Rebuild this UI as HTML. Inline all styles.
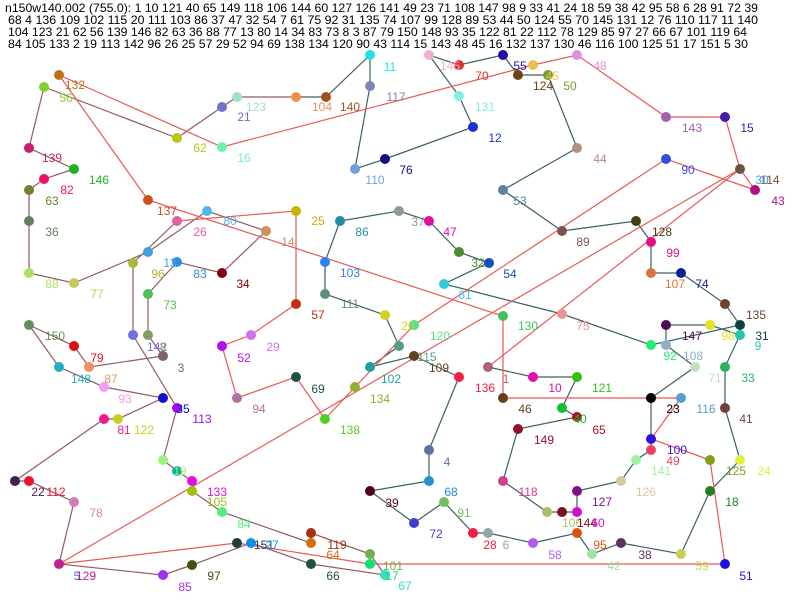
<!DOCTYPE html>
<html><head><meta charset="utf-8"><style>
html,body{margin:0;padding:0;background:#fff;width:800px;height:600px;overflow:hidden}
svg{display:block}
text{font-family:"Liberation Sans",sans-serif;font-size:12px}
</style></head><body>
<svg width="800" height="600" viewBox="0 0 800 600" xmlns="http://www.w3.org/2000/svg">
<g fill="#000">
<text x="5" y="12" textLength="753" lengthAdjust="spacingAndGlyphs">n150w140.002 (755.0): 1 10 121 40 65 149 118 106 144 60 127 126 141 49 23 71 108 147 98 9 33 41 24 18 59 38 42 95 58 6 28 91 72 39</text>
<text x="8" y="24" textLength="750" lengthAdjust="spacingAndGlyphs">68 4 136 109 102 115 20 111 103 86 37 47 32 54 7 61 75 92 31 135 74 107 99 128 89 53 44 50 124 55 70 145 131 12 76 110 117 11 140</text>
<text x="8" y="36" textLength="739" lengthAdjust="spacingAndGlyphs">104 123 21 62 56 139 146 82 63 36 88 77 13 80 14 34 83 73 8 3 87 79 150 148 93 35 122 81 22 112 78 129 85 97 27 66 67 101 119 64</text>
<text x="8" y="48" textLength="740" lengthAdjust="spacingAndGlyphs">84 105 133 2 19 113 142 96 26 25 57 29 52 94 69 138 134 120 90 43 114 15 143 48 45 16 132 137 130 46 116 100 125 51 17 151 5 30</text>
</g>
<g fill="none" stroke-width="1.2">
<polyline stroke="#3a6060" points="488,367 533,377 577,377 562,408 577,417 518,429 503,481 547,512 562,512 577,512 577,491 621,481 636,460 651,450 651,439 651,398 695,367 666,345 666,325 710,325 740,335 725,367 725,408 740,460 710,491 681,554 621,543 592,554 577,533 533,543 488,533 473,533 444,502 414,523 370,491 429,481 429,450 459,377 414,356 370,367 399,346 385,315 325,294 325,262 340,221 399,211 429,221 459,252 489,263 488,263 444,284 562,314 651,345 740,325 725,304 681,273 651,273 651,242 636,221 562,231 503,190 577,148 548,75 518,75 503,55 459,65 429,55 459,96 473,127 385,159 355,169 370,86 370,55 326,97 296,97"/>
<polyline stroke="#925a62" points="296,97 237,97 222,107 177,138 44,87 29,148 74,169 44,179 29,190 29,221 29,273 74,283 148,252 207,211 266,231 222,273 177,262 148,294 148,335 163,356 89,367 74,346 29,325 59,367 104,387 163,398 118,419 104,419 15,481 29,481 74,502 59,564 163,575 192,565 251,543 311,564 385,575 370,554 311,533 311,543 222,512 192,491 192,481 177,471 163,460 177,408 133,335 133,263 177,221"/>
<polyline stroke="#e85858" points="177,221 296,211 296,304 251,335 222,346 237,398 296,377 325,419 355,387 414,325 666,159 755,190 740,169 725,117 666,117 577,55 533,65 222,147 59,75 148,200 503,316 503,398 681,398 651,439 710,460 725,564 370,564 237,543 59,564 740,169 488,367"/>
</g>
<g>
<circle cx="488" cy="367" r="5" fill="#b06080"/><circle cx="533" cy="377" r="5" fill="#e010b0"/><circle cx="577" cy="377" r="5" fill="#30c010"/><circle cx="562" cy="408" r="5" fill="#10c030"/><circle cx="577" cy="417" r="5" fill="#b01020"/>
<circle cx="518" cy="429" r="5" fill="#901030"/><circle cx="503" cy="481" r="5" fill="#d04090"/><circle cx="547" cy="512" r="5" fill="#b0c060"/><circle cx="562" cy="512" r="5" fill="#801020"/><circle cx="577" cy="512" r="5" fill="#d010d0"/>
<circle cx="577" cy="491" r="5" fill="#801090"/><circle cx="621" cy="481" r="5" fill="#d8c8a0"/><circle cx="636" cy="460" r="5" fill="#a0f0a0"/><circle cx="651" cy="450" r="5" fill="#f04060"/><circle cx="651" cy="439" r="5" fill="#3010e0"/>
<circle cx="651" cy="398" r="5" fill="#000000"/><circle cx="695" cy="367" r="5" fill="#c0e0c0"/><circle cx="666" cy="345" r="5" fill="#90b0c0"/><circle cx="666" cy="325" r="5" fill="#501050"/><circle cx="710" cy="325" r="5" fill="#e8e020"/>
<circle cx="740" cy="325" r="5" fill="#104040"/><circle cx="740" cy="335" r="5" fill="#20c8b0"/><circle cx="725" cy="367" r="5" fill="#30b060"/><circle cx="725" cy="408" r="5" fill="#704040"/><circle cx="740" cy="460" r="5" fill="#e0f040"/>
<circle cx="710" cy="491" r="5" fill="#208020"/><circle cx="681" cy="554" r="5" fill="#c8d050"/><circle cx="621" cy="543" r="5" fill="#603060"/><circle cx="592" cy="554" r="5" fill="#a0e0a0"/><circle cx="577" cy="533" r="5" fill="#e05010"/>
<circle cx="533" cy="543" r="5" fill="#b060f0"/><circle cx="488" cy="533" r="5" fill="#90a8a0"/><circle cx="473" cy="533" r="5" fill="#f02040"/><circle cx="444" cy="502" r="5" fill="#70c060"/><circle cx="414" cy="523" r="5" fill="#4040d0"/>
<circle cx="370" cy="491" r="5" fill="#500020"/><circle cx="429" cy="481" r="5" fill="#2090d0"/><circle cx="429" cy="450" r="5" fill="#6070a0"/><circle cx="459" cy="377" r="5" fill="#f02040"/><circle cx="414" cy="356" r="5" fill="#604020"/>
<circle cx="370" cy="367" r="5" fill="#20a0a0"/><circle cx="399" cy="346" r="5" fill="#50a080"/><circle cx="385" cy="315" r="5" fill="#d8d020"/><circle cx="325" cy="294" r="5" fill="#5a9080"/><circle cx="325" cy="262" r="5" fill="#3080f0"/>
<circle cx="340" cy="221" r="5" fill="#2090a0"/><circle cx="399" cy="211" r="5" fill="#909898"/><circle cx="429" cy="221" r="5" fill="#e010a0"/><circle cx="459" cy="252" r="5" fill="#4a8a30"/><circle cx="489" cy="263" r="5" fill="#1050c0"/>
<circle cx="444" cy="284" r="5" fill="#30c8e0"/><circle cx="562" cy="314" r="5" fill="#f09090"/><circle cx="651" cy="345" r="5" fill="#20f070"/><circle cx="725" cy="304" r="5" fill="#704030"/>
<circle cx="681" cy="273" r="5" fill="#102090"/><circle cx="651" cy="273" r="5" fill="#e07040"/><circle cx="651" cy="242" r="5" fill="#e01080"/><circle cx="636" cy="221" r="5" fill="#404010"/><circle cx="562" cy="231" r="5" fill="#805050"/>
<circle cx="503" cy="190" r="5" fill="#6080a0"/><circle cx="577" cy="148" r="5" fill="#b09080"/><circle cx="548" cy="75" r="5" fill="#70a030"/><circle cx="518" cy="75" r="5" fill="#704010"/><circle cx="533" cy="65" r="5" fill="#e8c050"/><circle cx="503" cy="55" r="5" fill="#2010b0"/>
<circle cx="459" cy="65" r="5" fill="#e03030"/><circle cx="429" cy="55" r="5" fill="#f0b0d0"/><circle cx="459" cy="96" r="5" fill="#80f0e0"/><circle cx="473" cy="127" r="5" fill="#2030d0"/><circle cx="385" cy="159" r="5" fill="#101080"/>
<circle cx="355" cy="169" r="5" fill="#70a0e0"/><circle cx="370" cy="86" r="5" fill="#7888b8"/><circle cx="370" cy="55" r="5" fill="#20e0e8"/><circle cx="326" cy="97" r="5" fill="#a05020"/><circle cx="296" cy="97" r="5" fill="#f09050"/>
<circle cx="237" cy="97" r="5" fill="#a0e0c8"/><circle cx="222" cy="107" r="5" fill="#7070d0"/><circle cx="177" cy="138" r="5" fill="#b8c810"/><circle cx="44" cy="87" r="5" fill="#80d030"/><circle cx="29" cy="148" r="5" fill="#c8206a"/>
<circle cx="74" cy="169" r="5" fill="#20b020"/><circle cx="44" cy="179" r="5" fill="#f01060"/><circle cx="29" cy="190" r="5" fill="#708030"/><circle cx="29" cy="221" r="5" fill="#608060"/><circle cx="29" cy="273" r="5" fill="#b0e060"/>
<circle cx="74" cy="283" r="5" fill="#c8c860"/><circle cx="148" cy="252" r="5" fill="#40a0e0"/><circle cx="207" cy="211" r="5" fill="#50b8f0"/><circle cx="266" cy="231" r="5" fill="#d09060"/><circle cx="222" cy="273" r="5" fill="#800010"/>
<circle cx="177" cy="262" r="5" fill="#3090e0"/><circle cx="148" cy="294" r="5" fill="#50c050"/><circle cx="148" cy="335" r="5" fill="#80a060"/><circle cx="163" cy="356" r="5" fill="#806070"/><circle cx="89" cy="367" r="5" fill="#f09060"/>
<circle cx="74" cy="346" r="5" fill="#e01010"/><circle cx="29" cy="325" r="5" fill="#609060"/><circle cx="59" cy="367" r="5" fill="#20b0c0"/><circle cx="104" cy="387" r="5" fill="#f0a0f0"/><circle cx="163" cy="398" r="5" fill="#1010d0"/>
<circle cx="118" cy="419" r="5" fill="#c8d020"/><circle cx="104" cy="419" r="5" fill="#f01890"/><circle cx="15" cy="481" r="5" fill="#402050"/><circle cx="29" cy="481" r="5" fill="#f01030"/><circle cx="74" cy="502" r="5" fill="#d080b0"/>
<circle cx="59" cy="564" r="5" fill="#c02090"/><circle cx="163" cy="575" r="5" fill="#a030f0"/><circle cx="192" cy="565" r="5" fill="#405010"/><circle cx="237" cy="543" r="5" fill="#204040"/><circle cx="251" cy="543" r="5" fill="#1090f0"/><circle cx="311" cy="564" r="5" fill="#205040"/>
<circle cx="385" cy="575" r="5" fill="#30e0c0"/><circle cx="370" cy="554" r="5" fill="#70b050"/><circle cx="370" cy="564" r="5" fill="#10e070"/><circle cx="311" cy="533" r="5" fill="#a03010"/><circle cx="311" cy="543" r="5" fill="#d07010"/><circle cx="222" cy="512" r="5" fill="#50f080"/>
<circle cx="192" cy="491" r="5" fill="#a0c010"/><circle cx="192" cy="481" r="5" fill="#e010e0"/><circle cx="177" cy="471" r="5" fill="#10b0a0"/><circle cx="163" cy="460" r="5" fill="#a0f080"/><circle cx="177" cy="408" r="5" fill="#a010f0"/>
<circle cx="133" cy="335" r="5" fill="#7070e0"/><circle cx="133" cy="263" r="5" fill="#a8b840"/><circle cx="177" cy="221" r="5" fill="#e060a0"/><circle cx="296" cy="211" r="5" fill="#c8b000"/><circle cx="296" cy="304" r="5" fill="#c03010"/>
<circle cx="251" cy="335" r="5" fill="#d070f0"/><circle cx="222" cy="346" r="5" fill="#b010f0"/><circle cx="237" cy="398" r="5" fill="#b070a0"/><circle cx="296" cy="377" r="5" fill="#205040"/><circle cx="325" cy="419" r="5" fill="#50d020"/>
<circle cx="355" cy="387" r="5" fill="#90b030"/><circle cx="414" cy="325" r="5" fill="#50e090"/><circle cx="666" cy="159" r="5" fill="#3050e0"/><circle cx="755" cy="190" r="5" fill="#b01080"/><circle cx="740" cy="169" r="5" fill="#705040"/>
<circle cx="725" cy="117" r="5" fill="#4020a0"/><circle cx="666" cy="117" r="5" fill="#a060b0"/><circle cx="577" cy="55" r="5" fill="#e090e0"/><circle cx="222" cy="147" r="5" fill="#70f0b0"/>
<circle cx="59" cy="75" r="5" fill="#b8741a"/><circle cx="148" cy="200" r="5" fill="#d05020"/><circle cx="503" cy="316" r="5" fill="#40c060"/><circle cx="503" cy="398" r="5" fill="#604020"/><circle cx="681" cy="398" r="5" fill="#50a0d0"/>
<circle cx="710" cy="460" r="5" fill="#80a020"/><circle cx="725" cy="564" r="5" fill="#2010e0"/>
</g>
<g text-anchor="middle">
<text x="75" y="89" fill="#b8741a">132</text><text x="66" y="102" fill="#80d030">56</text><text x="52" y="162" fill="#c8206a">139</text><text x="99" y="184" fill="#20b020">146</text><text x="67" y="194" fill="#f01060">82</text>
<text x="52" y="205" fill="#708030">63</text><text x="52" y="236" fill="#608060">36</text><text x="52" y="288" fill="#b0e060">88</text><text x="97" y="298" fill="#c8c860">77</text>
<text x="200" y="152" fill="#b8c810">62</text><text x="244" y="162" fill="#70f0b0">16</text><text x="244" y="121" fill="#7070d0">21</text><text x="256" y="111" fill="#a0e0c8">123</text><text x="322" y="111" fill="#f09050">104</text><text x="350" y="111" fill="#a05020">140</text>
<text x="390" y="71" fill="#20e0e8">11</text><text x="396" y="101" fill="#7888b8">117</text><text x="375" y="184" fill="#70a0e0">110</text><text x="406" y="174" fill="#101080">76</text>
<text x="167" y="215" fill="#d05020">137</text><text x="200" y="236" fill="#e060a0">26</text><text x="230" y="225" fill="#50b8f0">80</text><text x="288" y="246" fill="#d09060">14</text><text x="318" y="225" fill="#c8b000">25</text>
<text x="170" y="267" fill="#40a0e0">13</text><text x="200" y="278" fill="#3090e0">83</text><text x="243" y="288" fill="#800010">34</text><text x="158" y="278" fill="#a8b840">96</text><text x="170" y="309" fill="#50c050">73</text>
<text x="362" y="236" fill="#2090a0">86</text><text x="350" y="277" fill="#3080f0">103</text><text x="350" y="308" fill="#5a9080">111</text><text x="318" y="319" fill="#c03010">57</text><text x="418" y="226" fill="#909898">37</text>
<text x="450" y="236" fill="#e010a0">47</text><text x="478" y="267" fill="#4a8a30">32</text><text x="510" y="278" fill="#1050c0">54</text><text x="465" y="299" fill="#30c8e0">61</text>
<text x="450" y="70" fill="#f0b0d0">145</text><text x="482" y="80" fill="#e03030">70</text><text x="520" y="70" fill="#2010b0">55</text><text x="552" y="80" fill="#e8c050">45</text><text x="543" y="90" fill="#704010">124</text><text x="570" y="90" fill="#70a030">50</text>
<text x="485" y="111" fill="#80f0e0">131</text><text x="495" y="142" fill="#2030d0">12</text><text x="600" y="70" fill="#e090e0">48</text><text x="692" y="132" fill="#a060b0">143</text><text x="747" y="132" fill="#4020a0">15</text>
<text x="600" y="163" fill="#b09080">44</text><text x="688" y="174" fill="#3050e0">90</text><text x="770" y="184" fill="#705040">114</text><text x="762" y="184" fill="#40a0d0">30</text><text x="778" y="205" fill="#b01080">43</text>
<text x="520" y="205" fill="#6080a0">53</text><text x="583" y="246" fill="#805050">89</text><text x="662" y="236" fill="#404010">128</text><text x="673" y="257" fill="#e01080">99</text><text x="675" y="288" fill="#e07040">107</text><text x="702" y="288" fill="#102090">74</text>
<text x="756" y="319" fill="#704030">135</text><text x="762" y="340" fill="#104040">31</text><text x="758" y="350" fill="#20c8b0">9</text><text x="728" y="340" fill="#e8e020">98</text><text x="692" y="340" fill="#501050">147</text>
<text x="670" y="360" fill="#20f070">92</text><text x="693" y="360" fill="#90b0c0">108</text><text x="715" y="382" fill="#c0e0c0">71</text><text x="748" y="382" fill="#30b060">33</text><text x="583" y="330" fill="#f09090">75</text>
<text x="528" y="330" fill="#40c060">130</text><text x="555" y="392" fill="#e010b0">10</text><text x="602" y="392" fill="#30c010">121</text><text x="506" y="383" fill="#b06080">1</text><text x="485" y="392" fill="#f02040">136</text>
<text x="525" y="413" fill="#604020">46</text><text x="580" y="423" fill="#10c030">40</text><text x="599" y="434" fill="#b01020">65</text><text x="544" y="444" fill="#901030">149</text><text x="673" y="413" fill="#000">23</text>
<text x="706" y="413" fill="#50a0d0">116</text><text x="746" y="423" fill="#704040">41</text><text x="677" y="454" fill="#3010e0">100</text><text x="673" y="465" fill="#f04060">49</text><text x="661" y="475" fill="#a0f0a0">141</text>
<text x="736" y="475" fill="#80a020">125</text><text x="764" y="475" fill="#e0f040">24</text><text x="732" y="506" fill="#208020">18</text><text x="447" y="466" fill="#6070a0">4</text><text x="451" y="496" fill="#2090d0">68</text>
<text x="528" y="496" fill="#d04090">118</text><text x="646" y="496" fill="#d8c8a0">126</text><text x="602" y="506" fill="#801090">127</text><text x="572" y="527" fill="#b0c060">106</text><text x="587" y="527" fill="#801020">144</text><text x="598" y="527" fill="#d010d0">60</text>
<text x="464" y="517" fill="#70c060">91</text><text x="436" y="538" fill="#4040d0">72</text><text x="490" y="549" fill="#f02040">28</text><text x="506" y="549" fill="#90a8a0">6</text><text x="555" y="559" fill="#b060f0">58</text>
<text x="600" y="549" fill="#e05010">95</text><text x="614" y="570" fill="#a0e0a0">42</text><text x="645" y="559" fill="#603060">38</text><text x="702" y="570" fill="#c8d050">59</text><text x="746" y="580" fill="#2010e0">51</text>
<text x="55" y="340" fill="#609060">150</text><text x="97" y="362" fill="#e01010">79</text><text x="81" y="383" fill="#20b0c0">148</text><text x="111" y="383" fill="#f09060">87</text><text x="181" y="372" fill="#806070">3</text>
<text x="157" y="351" fill="#7070e0">142</text><text x="163" y="351" fill="#80a060">8</text><text x="125" y="403" fill="#f0a0f0">93</text><text x="183" y="413" fill="#1010d0">35</text><text x="202" y="423" fill="#a010f0">113</text>
<text x="124" y="434" fill="#f01890">81</text><text x="144" y="434" fill="#c8d020">122</text><text x="38" y="496" fill="#402050">22</text><text x="56" y="496" fill="#f01030">112</text><text x="96" y="517" fill="#d080b0">78</text>
<text x="180" y="475" fill="#a0f080">19</text><text x="217" y="496" fill="#e010e0">133</text><text x="217" y="506" fill="#a0c010">105</text><text x="244" y="528" fill="#50f080">84</text>
<text x="77" y="580" fill="#3080f0">5</text><text x="86" y="580" fill="#c02090">129</text><text x="185" y="591" fill="#a030f0">85</text><text x="214" y="580" fill="#405010">97</text><text x="264" y="549" fill="#204040">151</text><text x="272" y="549" fill="#1090f0">27</text>
<text x="333" y="580" fill="#205040">66</text><text x="337" y="549" fill="#a03010">119</text><text x="333" y="559" fill="#d07010">64</text><text x="393" y="570" fill="#70b050">101</text><text x="392" y="580" fill="#10e070">17</text>
<text x="405" y="590" fill="#30e0c0">67</text><text x="244" y="362" fill="#b010f0">52</text><text x="273" y="351" fill="#d070f0">29</text><text x="259" y="413" fill="#b070a0">94</text><text x="318" y="393" fill="#205040">69</text>
<text x="350" y="434" fill="#50d020">138</text><text x="380" y="403" fill="#90b030">134</text><text x="391" y="383" fill="#20a0a0">102</text><text x="392" y="507" fill="#500020">39</text>
<text x="408" y="330" fill="#d8d020">20</text><text x="440" y="340" fill="#50e090">120</text><text x="427" y="361" fill="#50a080">115</text><text x="439" y="372" fill="#604020">109</text>
</g>
</svg>
</body></html>
